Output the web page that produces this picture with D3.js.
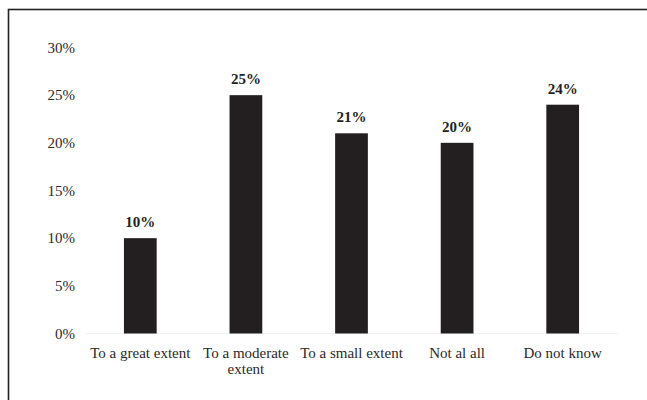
<!DOCTYPE html>
<html>
<head>
<meta charset="utf-8">
<script src="https://cdn.jsdelivr.net/npm/d3@7"></script>
<style>
  html, body { margin: 0; padding: 0; background: #fff; }
  svg { display: block; }
  text { font-family: "Liberation Serif", "Times New Roman", serif; }
</style>
</head>
<body>
<script>
// Survey responses, share of respondents per answer
const categories = ["To a great extent", "To a moderate extent", "To a small extent", "Not al all", "Do not know"];
const values = [10, 25, 21, 20, 24];
const yTicks = [0, 5, 10, 15, 20, 25, 30];

const W = 647, H = 400;
const svg = d3.select("body").append("svg").attr("width", W).attr("height", H);

// frame around the figure
svg.append("rect")
  .attr("x", 8.5).attr("y", 9.5)
  .attr("width", W + 20).attr("height", H + 20)
  .attr("fill", "none").attr("stroke", "#222").attr("stroke-width", 1.6);

const x = d3.scaleBand().domain(categories).range([87.5, 615.5]).paddingInner(0.69).paddingOuter(0.345);
const y = d3.scaleLinear().domain([0, 30]).range([333.5, 47.5]);

// faint baseline
svg.append("line")
  .attr("x1", 85).attr("x2", 618)
  .attr("y1", y(0)).attr("y2", y(0))
  .attr("stroke", "#f2f2f2").attr("stroke-width", 1);

// y axis labels only
const yAxis = d3.axisLeft(y).tickValues(yTicks).tickFormat(d => d + "%").tickSize(0).tickPadding(0);
const gy = svg.append("g").attr("transform", "translate(75,0)").call(yAxis);
gy.select(".domain").remove();
gy.selectAll("text").attr("font-size", 15).attr("fill", "#2a2a2a")
  .style("font-family", '"Liberation Serif", serif');

// bars
svg.append("g").selectAll("rect").data(values).join("rect")
  .attr("x", (d, i) => x(categories[i]))
  .attr("width", x.bandwidth())
  .attr("y", d => y(d))
  .attr("height", d => y(0) - y(d))
  .attr("fill", "#231f20");

// value labels
svg.append("g").selectAll("text").data(values).join("text")
  .attr("x", (d, i) => x(categories[i]) + x.bandwidth() / 2)
  .attr("y", d => y(d) - 11)
  .attr("text-anchor", "middle")
  .attr("font-size", 15).attr("font-weight", "bold").attr("fill", "#231f20")
  .text(d => d + "%");

// category labels, wrapped to fit the band step
const wrap = {"To a moderate extent": ["To a moderate", "extent"]};
const gx = svg.append("g");
categories.forEach(c => {
  const lines = wrap[c] || [c];
  const t = gx.append("text")
    .attr("x", x(c) + x.bandwidth() / 2)
    .attr("y", 358)
    .attr("text-anchor", "middle")
    .attr("font-size", 15).attr("fill", "#2a2a2a");
  lines.forEach((l, k) => t.append("tspan")
    .attr("x", x(c) + x.bandwidth() / 2)
    .attr("dy", k === 0 ? 0 : 16)
    .text(l));
});
</script>
</body>
</html>
